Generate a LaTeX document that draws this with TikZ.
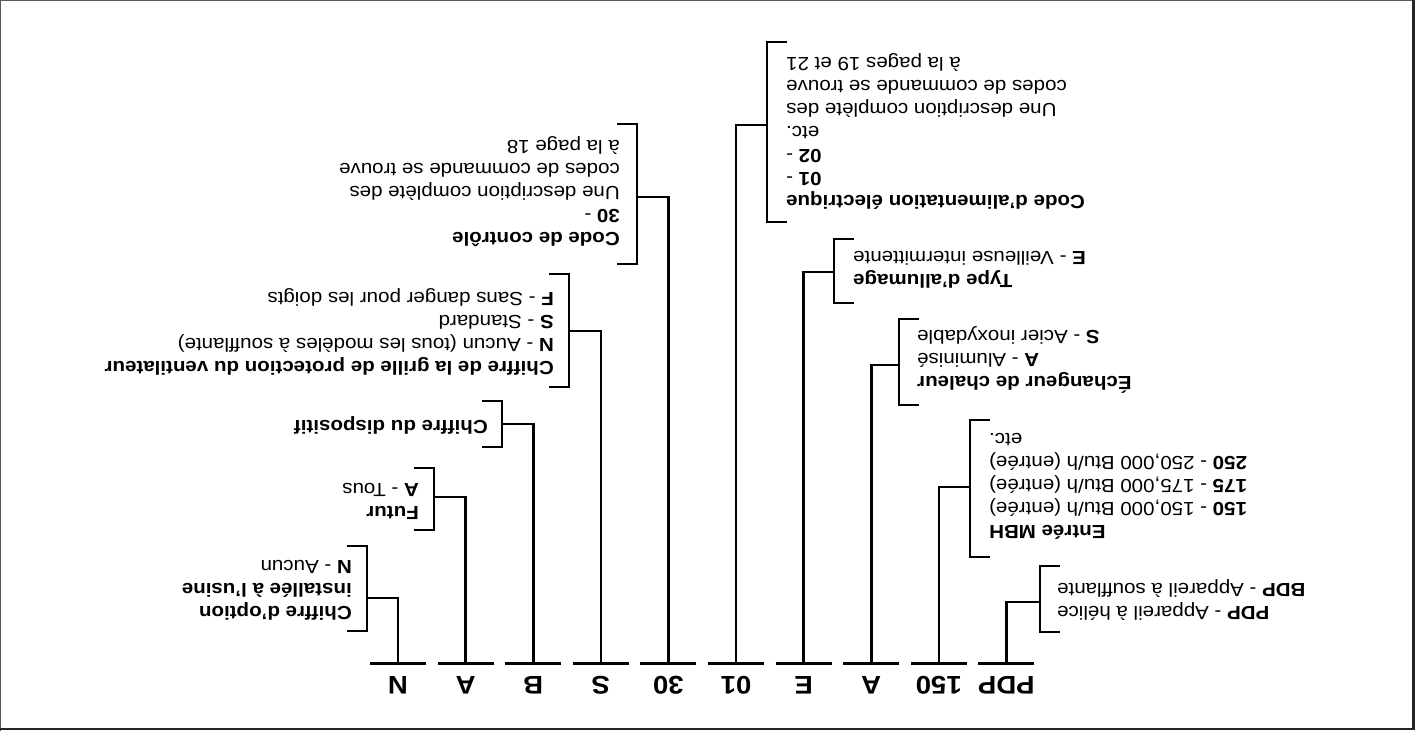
\documentclass[tikz,border=0pt]{standalone}
\usepackage{fontspec}
\setmainfont{Liberation Sans}[FakeStretch=1.08]
\begin{document}
\begin{tikzpicture}[x=1pt,y=-1pt,
  ln/.style={line width=2.6pt},
  seg/.style={line width=3pt},
  txt/.style={rotate=180, inner sep=0pt, font=\fontsize{19}{23}\selectfont},
  ltxt/.style={txt, anchor=west, align=left},
  rtxt/.style={txt, anchor=east, align=right},
  code/.style={rotate=180, anchor=base, inner sep=0pt, font=\fontsize{25.5}{30}\selectfont\bfseries}]
\useasboundingbox (0,0) rectangle (1420,731);
% frame
\draw[black!65, line width=1.2pt] (0.6,731) -- (0.6,0.6) -- (1414,0.6);
\draw[black!85, line width=2.6pt] (1413.7,0) -- (1413.7,728.8) -- (0,728.8);

% ---- code letters and segments ----
\foreach \nm/\vx/\lab in {c1/398/N, c2/465.6/A, c3/533.2/B, c4/600.8/S, c5/668.4/30,
                          c6/736/01, c7/803.6/E, c8/871.2/A, c9/938.8/150, c10/1006.4/PDP}{
  \node[code] (\nm) at (\vx,676) {\lab};
  \coordinate (s\nm) at (\vx,663);
  \draw[seg] ([xshift=-28pt]s\nm) -- ([xshift=28pt]s\nm);
}

% ---- left-side branches (text left of bracket in display) ----
% N
\coordinate (b1) at (367,598);
\draw[ln] (sc1) |- (b1);
\draw[ln] (347,546) -- (367,546) -- (367,631) -- (347,631);
\node[ltxt] (t1) at (352,590) {\textbf{Chiffre d'option}\\\textbf{installée à l'usine}\\\textbf{N} - Aucun};
% A
\coordinate (b2) at (434,497);
\draw[ln] (sc2) |- (b2);
\draw[ln] (414,468) -- (434,468) -- (434,530) -- (414,530);
\node[ltxt] (t2) at (419,501) {\textbf{Futur}\\\textbf{A} - Tous};
% B
\coordinate (b3) at (502,424);
\draw[ln] (sc3) |- (b3);
\draw[ln] (482,401) -- (502,401) -- (502,447) -- (482,447);
\node[ltxt] (t3) at (488,425) {\textbf{Chiffre du dispositif}};
% S
\coordinate (b4) at (569,331);
\draw[ln] (sc4) |- (b4);
\draw[ln] (549,274) -- (569,274) -- (569,387) -- (549,387);
\node[ltxt] (t4) at (554,332) {\textbf{Chiffre de la grille de protection du ventilateur}\\\textbf{N} - Aucun (tous les modèles à soufflante)\\\textbf{S} - Standard\\\textbf{F} - Sans danger pour les doigts};
% 30
\coordinate (b5) at (637,197);
\draw[ln] (sc5) |- (b5);
\draw[ln] (617,124) -- (637,124) -- (637,264) -- (617,264);
\node[ltxt] (t5) at (620,192) {\textbf{Code de contrôle}\\\textbf{30} -\\Une description complète des\\codes de commande se trouve\\à la page 18};

% ---- right-side branches (text right of bracket in display) ----
% 01
\coordinate (b6) at (767,125);
\draw[ln] (sc6) |- (b6);
\draw[ln] (787,42) -- (767,42) -- (767,222) -- (787,222);
\node[rtxt] (t6) at (786,131) {\textbf{Code d'alimentation électrique}\\\textbf{01} -\\\textbf{02} -\\etc.\\Une description complète des \\codes de commande se trouve\\à la pages 19 et 21};
% E
\coordinate (b7) at (834,272);
\draw[ln] (sc7) |- (b7);
\draw[ln] (854,239) -- (834,239) -- (834,303) -- (854,303);
\node[rtxt] (t7) at (853,270) {\textbf{Type d'allumage}\\\textbf{E} - Veilleuse intermittente};
% A
\coordinate (b8) at (899,365);
\draw[ln] (sc8) |- (b8);
\draw[ln] (919,319) -- (899,319) -- (899,405) -- (919,405);
\node[rtxt] (t8) at (917,360) {\textbf{Échangeur de chaleur}\\\textbf{A} - Aluminisé\\\textbf{S} - Acier inoxydable};
% 150
\coordinate (b9) at (970,487);
\draw[ln] (sc9) |- (b9);
\draw[ln] (990,420) -- (970,420) -- (970,557) -- (990,557);
\node[rtxt] (t9) at (989,486) {\textbf{Entrée MBH}\\\textbf{150} - 150,000 Btu/h (entrée)\\\textbf{175} - 175,000 Btu/h (entrée)\\\textbf{250} - 250,000 Btu/h (entrée)\\etc.};
% PDP
\coordinate (b10) at (1040,602);
\draw[ln] (sc10) |- (b10);
\draw[ln] (1060,566) -- (1040,566) -- (1040,632) -- (1060,632);
\node[rtxt] (t10) at (1057,600) {\textbf{PDP} - Appareil à hélice\\\textbf{BDP} - Appareil à soufflante};
\end{tikzpicture}
\end{document}
